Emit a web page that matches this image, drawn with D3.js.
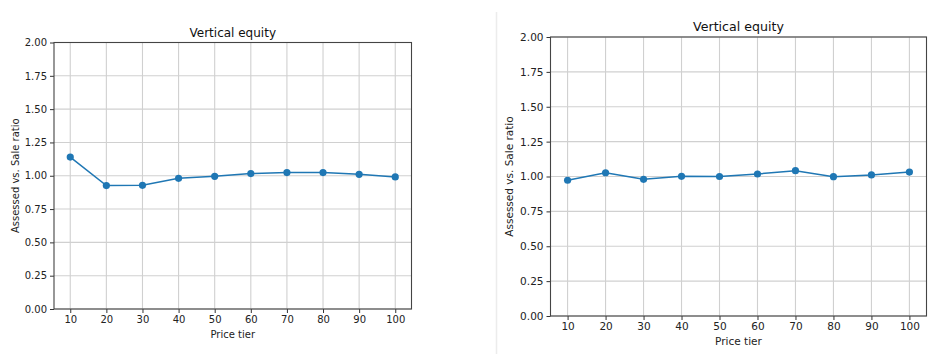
<!DOCTYPE html>
<html>
<head>
<meta charset="utf-8">
<script src="https://cdn.jsdelivr.net/npm/d3@7"></script>
<style>
  body { margin: 0; background: #fff; }
  svg { display: block; font-family: "DejaVu Sans", sans-serif; }
</style>
</head>
<body>
<svg id="chart" width="947" height="363"></svg>
<script>
// data
var tiers = [10, 20, 30, 40, 50, 60, 70, 80, 90, 100];
var ratioLeft = [1.14, 0.926, 0.928, 0.981, 0.996, 1.016, 1.024, 1.024, 1.011, 0.991];
var ratioRight = [0.973, 1.027, 0.98, 1.001, 1.0, 1.018, 1.042, 0.999, 1.011, 1.032];
var yTicks = [0, 0.25, 0.5, 0.75, 1.0, 1.25, 1.5, 1.75, 2.0];

var svg = d3.select("svg#chart");

// faint divider between the two figures
svg.append("line")
  .attr("x1", 496.5).attr("x2", 496.5)
  .attr("y1", 12).attr("y2", 354)
  .style("stroke", "#ececec")
  .attr("stroke-width", 1.5);

function drawPanel(values, box, fs) {
  var x = d3.scaleLinear().domain([5.5, 104.5]).range([box.left, box.right]);
  var y = d3.scaleLinear().domain([0, 2]).range([box.bottom, box.top]);
  var g = svg.append("g");

  // grid
  g.append("g").selectAll("line")
    .data(tiers).enter().append("line")
    .attr("x1", function(d) { return x(d); })
    .attr("x2", function(d) { return x(d); })
    .attr("y1", box.top).attr("y2", box.bottom)
    .style("stroke", "#d0d0d0").attr("stroke-width", 1.1);
  g.append("g").selectAll("line")
    .data(yTicks).enter().append("line")
    .attr("x1", box.left).attr("x2", box.right)
    .attr("y1", function(d) { return y(d); })
    .attr("y2", function(d) { return y(d); })
    .style("stroke", "#d0d0d0").attr("stroke-width", 1.1);

  // axes
  var xAxis = g.append("g")
    .attr("transform", "translate(0," + box.bottom + ")")
    .call(d3.axisBottom(x).tickValues(tiers).tickSize(4).tickPadding(3).tickFormat(d3.format("d")));
  var yAxis = g.append("g")
    .attr("transform", "translate(" + box.left + ",0)")
    .call(d3.axisLeft(y).tickValues(yTicks).tickSize(4).tickPadding(3).tickFormat(d3.format(".2f")));
  [xAxis, yAxis].forEach(function(a) {
    a.select(".domain").remove();
    a.selectAll("line").style("stroke", "#333");
    a.selectAll("text").style("fill", "#222").style("font-size", fs + "px")
      .style("font-family", "DejaVu Sans, sans-serif");
  });

  // frame
  g.append("rect")
    .attr("x", box.left).attr("y", box.top)
    .attr("width", box.right - box.left).attr("height", box.bottom - box.top)
    .style("fill", "none").style("stroke", "#444").attr("stroke-width", 1.1);

  // line + markers
  var line = d3.line()
    .x(function(d, i) { return x(tiers[i]); })
    .y(function(d) { return y(d); });
  g.append("path")
    .datum(values)
    .attr("d", line)
    .style("fill", "none")
    .style("stroke", "#1f77b4")
    .attr("stroke-width", 1.5);
  g.append("g").selectAll("circle")
    .data(values).enter().append("circle")
    .attr("cx", function(d, i) { return x(tiers[i]); })
    .attr("cy", function(d) { return y(d); })
    .attr("r", 3.6)
    .attr("fill", "#1f77b4");

  // labels
  g.append("text")
    .attr("x", (box.left + box.right) / 2).attr("y", box.top - 6)
    .attr("text-anchor", "middle")
    .style("font-size", (fs * 1.2) + "px").style("fill", "#111")
    .text("Vertical equity");
  g.append("text")
    .attr("x", (box.left + box.right) / 2).attr("y", box.bottom + 29)
    .attr("text-anchor", "middle")
    .style("font-size", fs + "px").style("fill", "#222")
    .text("Price tier");
  g.append("text")
    .attr("transform", "translate(" + box.ylab + "," + ((box.top + box.bottom) / 2) + ") rotate(-90)")
    .attr("text-anchor", "middle")
    .attr("dy", "0.35em")
    .style("font-size", fs + "px").style("fill", "#222")
    .text("Assessed vs. Sale ratio");
}

drawPanel(ratioLeft, {left: 54, right: 411.5, top: 42.5, bottom: 309, ylab: 15}, 10);
drawPanel(ratioRight, {left: 550.5, right: 926.5, top: 37, bottom: 316, ylab: 509}, 10.5);
</script>
</body>
</html>
